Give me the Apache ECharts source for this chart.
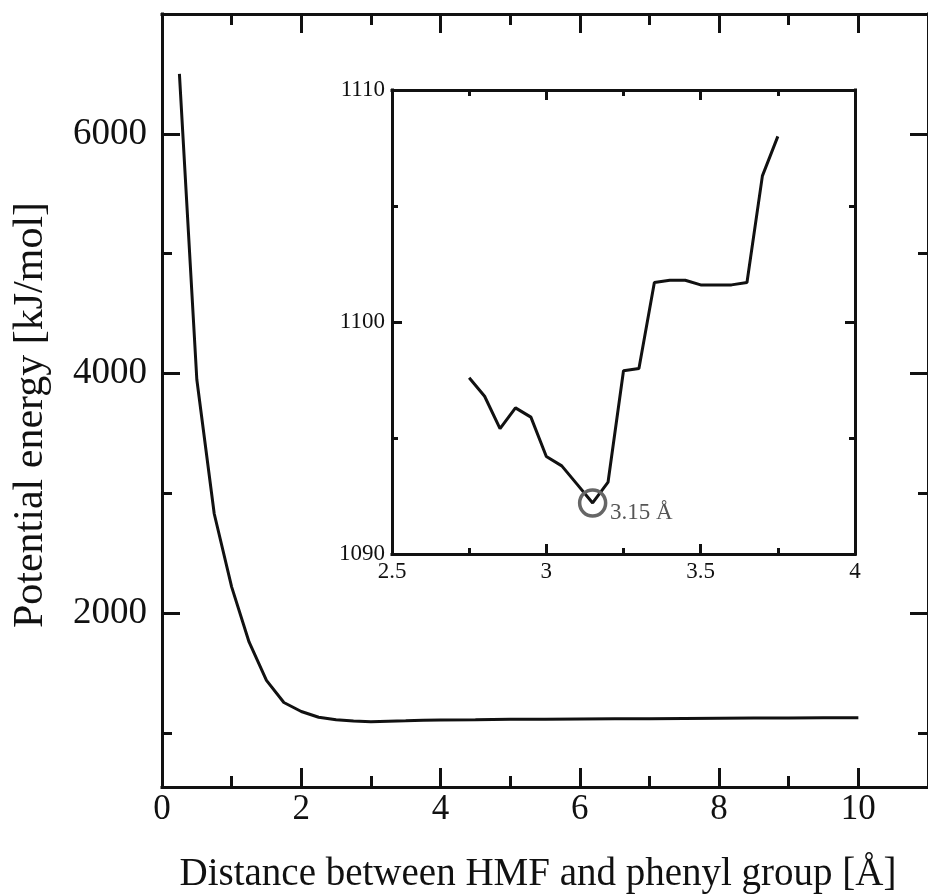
<!DOCTYPE html>
<html>
<head>
<meta charset="utf-8">
<title>Potential energy vs distance</title>
<script src="https://cdn.jsdelivr.net/npm/echarts@6/dist/echarts.min.js"></script>
<style>
  html, body { margin: 0; padding: 0; background: #fff; }
  #chart { width: 928px; height: 895px; }
</style>
</head>
<body>
<div id="chart"></div>
<script>
// Full scan: potential energy vs. HMF–phenyl distance
const mainDistance = [0.25, 0.5, 0.75, 1.0, 1.25, 1.5, 1.75, 2.0, 2.25, 2.5, 2.75, 3.0, 3.25, 3.5, 3.75,
  4.0, 4.5, 5.0, 5.5, 6.0, 6.5, 7.0, 7.5, 8.0, 8.5, 9.0, 9.5, 10.0];
const mainEnergy = [6500, 3950, 2830, 2220, 1760, 1440, 1255, 1180, 1132, 1112, 1100, 1094, 1098, 1102, 1108,
  1110, 1112, 1115, 1116, 1118, 1119, 1120, 1122, 1124, 1125, 1126, 1127, 1128];

// Zoomed scan around the minimum
const insetDistance = [2.75, 2.8, 2.85, 2.9, 2.95, 3.0, 3.05, 3.1, 3.15, 3.2, 3.25, 3.3, 3.35,
  3.4, 3.45, 3.5, 3.55, 3.6, 3.65, 3.7, 3.75];
const insetEnergy = [1097.6, 1096.8, 1095.4, 1096.3, 1095.9, 1094.2, 1093.8, 1093.0, 1092.2, 1093.1,
  1097.9, 1098.0, 1101.7, 1101.8, 1101.8, 1101.6, 1101.6, 1101.6, 1101.7, 1106.3, 1108.0];

// Minimum marker
const minDistance = 3.15;
const minEnergy = 1092.2;
const minLabel = '3.15 Å';

// Tick positions on the main axes
const mainXMajor = [0, 2, 4, 6, 8, 10];
const mainXMinor = [1, 3, 5, 7, 9];
const mainYMajor = [2000, 4000, 6000];
const mainYMinor = [1000, 3000, 5000];

const xTitle = 'Distance between HMF and phenyl group [Å]';
const yTitle = 'Potential energy [kJ/mol]';

const FONT = '"Liberation Serif", "Times New Roman", serif';
const INK = '#111';

const toPairs = (xs, ys) => xs.map((x, i) => [x, ys[i]]);

function mainAxis(dim, position, opts) {
  return {
    type: 'value',
    gridIndex: 0,
    position: position,
    min: dim === 'x' ? 0 : 550,
    max: dim === 'x' ? 11 : 7000,
    splitLine: { show: false },
    axisLine: { show: !!opts.line, onZero: false, lineStyle: { color: INK, width: 3, cap: 'square' } },
    axisTick: {
      show: true, inside: true, length: opts.len,
      customValues: opts.ticks,
      lineStyle: { color: INK, width: 3 }
    },
    axisLabel: opts.labels ? {
      show: true, customValues: opts.ticks, fontFamily: FONT,
      fontSize: dim === 'x' ? 35 : 37,
      color: INK, margin: opts.margin,
      // only the listed tick values carry a label
      formatter: (v) => (opts.ticks.some((t) => Math.abs(t - v) < 1e-6) ? String(v) : '')
    } : { show: false }
  };
}

function insetAxis(dim, position, labels) {
  return {
    type: 'value',
    gridIndex: 1,
    position: position,
    min: dim === 'x' ? 2.5 : 1090,
    max: dim === 'x' ? 4 : 1110,
    interval: dim === 'x' ? 0.5 : 10,
    splitLine: { show: false },
    axisLine: { show: true, onZero: false, lineStyle: { color: INK, width: 3, cap: 'square' } },
    axisTick: { show: true, inside: true, length: 10, lineStyle: { color: INK, width: 3 } },
    minorTick: { show: true, splitNumber: 2, length: 6, lineStyle: { color: INK, width: 3 } },
    minorSplitLine: { show: false },
    axisLabel: labels ? {
      show: true, fontFamily: FONT, fontSize: 23, color: INK,
      margin: dim === 'x' ? 6 : 7,
      formatter: (v) => String(v)
    } : { show: false }
  };
}

const chart = echarts.init(document.getElementById('chart'), null, { renderer: 'canvas' });

chart.setOption({
  animation: false,
  backgroundColor: '#fff',
  grid: [
    { left: 162, top: 14, width: 770, height: 773 },
    { left: 392, top: 90, width: 463, height: 464 }
  ],
  xAxis: [
    mainAxis('x', 'bottom', { line: true, len: 19, ticks: mainXMajor, labels: true, margin: 5 }),
    mainAxis('x', 'bottom', { line: false, len: 11, ticks: mainXMinor }),
    mainAxis('x', 'top', { line: true, len: 19, ticks: mainXMajor }),
    mainAxis('x', 'top', { line: false, len: 11, ticks: mainXMinor }),
    insetAxis('x', 'bottom', true),
    insetAxis('x', 'top', false)
  ],
  yAxis: [
    mainAxis('y', 'left', { line: true, len: 18, ticks: mainYMajor, labels: true, margin: 15 }),
    mainAxis('y', 'left', { line: false, len: 10, ticks: mainYMinor }),
    mainAxis('y', 'right', { line: true, len: 18, ticks: mainYMajor }),
    mainAxis('y', 'right', { line: false, len: 10, ticks: mainYMinor }),
    insetAxis('y', 'left', true),
    insetAxis('y', 'right', false)
  ],
  series: [
    {
      type: 'line',
      xAxisIndex: 0, yAxisIndex: 0,
      data: toPairs(mainDistance, mainEnergy),
      showSymbol: false,
      lineStyle: { color: INK, width: 3 },
      z: 3
    },
    {
      type: 'line',
      xAxisIndex: 4, yAxisIndex: 4,
      data: toPairs(insetDistance, insetEnergy),
      showSymbol: false,
      lineStyle: { color: INK, width: 3 },
      z: 3,
      markPoint: {
        symbol: 'circle',
        symbolSize: 26,
        itemStyle: { color: 'rgba(0,0,0,0)', borderColor: '#666', borderWidth: 3.5 },
        label: {
          show: true, formatter: minLabel, position: [32, 25],
          align: 'left', verticalAlign: 'middle',
          fontFamily: FONT, fontSize: 23, color: '#555'
        },
        data: [{ coord: [minDistance, minEnergy] }]
      }
    }
  ],
  graphic: [
    {
      type: 'text',
      x: 538, y: 875,
      style: {
        text: xTitle, fontFamily: FONT, fontSize: 39, fill: INK,
        align: 'center', verticalAlign: 'middle'
      }
    },
    {
      type: 'text',
      x: 31, y: 415,
      rotation: Math.PI / 2,
      style: {
        text: yTitle, fontFamily: FONT, fontSize: 42, fill: INK,
        align: 'center', verticalAlign: 'middle'
      }
    }
  ]
});
</script>
</body>
</html>
